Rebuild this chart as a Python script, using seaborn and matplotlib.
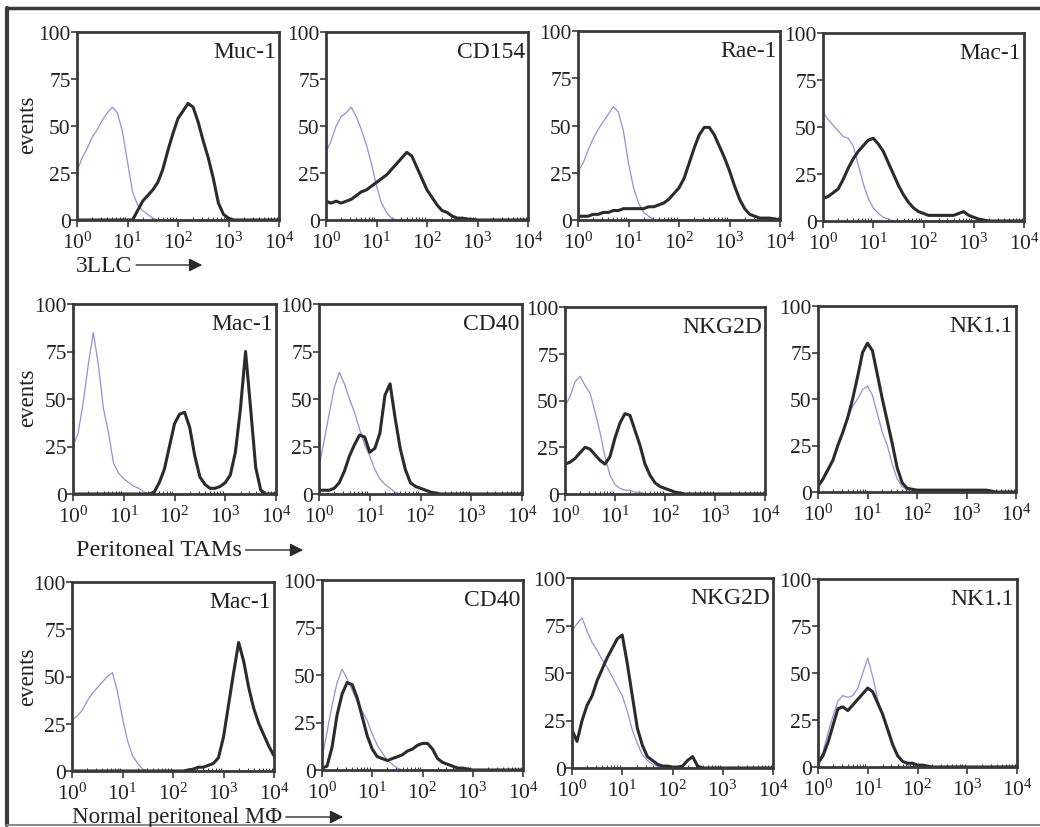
import numpy as np
import pandas as pd
import matplotlib
matplotlib.use("Agg")
import matplotlib.pyplot as plt
import seaborn as sns
from matplotlib.ticker import FixedLocator, LogFormatterMathtext, NullFormatter
from matplotlib.patches import FancyArrowPatch
from matplotlib.lines import Line2D

# ---------------- data (events per channel, read at 0.1-decade steps from 10^0) ----
decades = [round(0.1 * i, 1) for i in range(41)]
y_ticks = [0, 25, 50, 75, 100]
x_ticks = [1, 10, 100, 1000, 10000]

panel_labels = ["Muc-1", "CD154", "Rae-1", "Mac-1",
                "Mac-1", "CD40", "NKG2D", "NK1.1",
                "Mac-1", "CD40", "NKG2D", "NK1.1"]
row_labels = ["3LLC", "Peritoneal TAMs", "Normal peritoneal M\u03a6"]

# row 1 : 3LLC
muc1_iso = [26, 33, 38, 44, 48, 53, 57, 60, 57, 47, 31, 15, 8, 5, 3, 1, 0]
muc1_stain = [0] * 12 + [5, 10, 13, 16, 20, 27, 37, 46, 54, 58, 62, 60, 52, 42, 33, 22, 9, 3, 1, 0]
cd154_iso = [36, 42, 50, 55, 57, 60, 55, 48, 40, 30, 18, 9, 4, 1, 0]
cd154_stain = [10, 9, 10, 9, 10, 11, 13, 15, 16, 18, 20, 22, 24, 27, 30, 33, 36, 34, 28, 22,
               16, 12, 8, 5, 4, 2, 1, 1, 0.5, 0.3, 0]
rae1_iso = [26, 30, 37, 43, 48, 52, 56, 60, 57, 47, 30, 17, 9, 4, 2, 0]
rae1_stain = [2, 2, 2, 3, 3, 4, 4, 5, 5, 6, 6, 6, 6, 6, 7, 7, 8, 9, 11, 14, 17, 22, 30, 38, 45,
              49, 49, 45, 39, 33, 26, 18, 11, 6, 3, 2, 1, 1, 1, 0.5, 0]
mac1_llc_iso = [58, 54, 51, 48, 45, 44, 40, 30, 20, 12, 7, 4, 2, 1, 0]
mac1_llc_stain = [12, 13, 15, 17, 22, 28, 33, 37, 40, 43, 44, 41, 37, 31, 25, 19, 14, 10, 7, 5,
                  4, 3, 3, 3, 3, 3, 3, 4, 5, 3, 2, 1, 0.5, 0]
# row 2 : peritoneal TAMs
mac1_tam_iso = [25, 32, 48, 68, 85, 68, 45, 32, 16, 11, 8, 6, 4, 3, 1, 0]
mac1_tam_stain = [0] * 16 + [1, 6, 13, 25, 37, 42, 43, 35, 20, 9, 5, 3, 3, 4, 6, 10, 22, 45, 75,
                             45, 14, 2, 0]
cd40_tam_iso = [14, 28, 42, 56, 64, 58, 50, 43, 34, 26, 20, 13, 8, 5, 3, 1, 0]
cd40_tam_stain = [2, 2, 2, 3, 6, 12, 20, 26, 31, 30, 22, 24, 32, 52, 58, 40, 24, 13, 6, 4, 3, 2,
                  1, 0.5, 0]
nkg2d_tam_iso = [47, 52, 60, 63, 58, 54, 44, 33, 20, 10, 5, 3, 2, 2, 1, 1, 0]
nkg2d_tam_stain = [16, 17, 19, 22, 25, 24, 21, 18, 16, 20, 30, 38, 43, 42, 34, 26, 16, 10, 6, 4,
                   3, 2, 1, 0.5, 0]
nk11_tam_iso = [3, 6, 11, 17, 24, 32, 40, 46, 50, 55, 57, 52, 42, 32, 25, 15, 7, 3, 1, 0]
nk11_tam_stain = [3, 7, 12, 17, 25, 32, 40, 50, 62, 75, 80, 76, 63, 50, 38, 26, 13, 5, 2, 1.5,
                  1, 1, 1, 1, 1, 1, 1, 1, 1, 1, 1, 1, 1, 1, 1, 0.5, 0]
# row 3 : normal peritoneal macrophages
mac1_mf_iso = [27, 29, 32, 37, 41, 44, 47, 50, 52, 42, 28, 16, 8, 4, 1, 0]
mac1_mf_stain = [0] * 23 + [0.5, 1, 2, 2, 3, 4, 7, 18, 35, 52, 68, 58, 44, 33, 25, 19, 13, 8]
cd40_mf_iso = [6, 20, 34, 46, 53, 48, 42, 36, 31, 26, 19, 13, 9, 5, 3, 1, 0]
cd40_mf_stain = [1, 2, 12, 29, 40, 46, 45, 38, 28, 18, 11, 7, 6, 5, 6, 7, 8, 10, 11, 13, 14, 14,
                 11, 6, 4, 3, 2, 1, 1, 0.5, 0]
nkg2d_mf_iso = [72, 76, 79, 72, 66, 62, 57, 53, 48, 43, 38, 30, 20, 13, 7, 4, 2, 1, 0]
nkg2d_mf_stain = [20, 14, 25, 33, 38, 46, 52, 58, 63, 68, 70, 55, 38, 21, 12, 6, 4, 2, 1, 1, 0.5,
                  0.5, 1, 4, 6, 1, 0]
nk11_mf_iso = [3, 8, 18, 27, 35, 38, 37, 38, 42, 50, 58, 48, 36, 27, 20, 12, 6, 3, 1, 0]
nk11_mf_stain = [2, 6, 13, 22, 31, 32, 30, 33, 36, 39, 42, 40, 34, 28, 20, 12, 6, 3, 2, 2, 1, 1,
                 0.5, 0]

iso_series = [muc1_iso, cd154_iso, rae1_iso, mac1_llc_iso,
              mac1_tam_iso, cd40_tam_iso, nkg2d_tam_iso, nk11_tam_iso,
              mac1_mf_iso, cd40_mf_iso, nkg2d_mf_iso, nk11_mf_iso]
stain_series = [muc1_stain, cd154_stain, rae1_stain, mac1_llc_stain,
                mac1_tam_stain, cd40_tam_stain, nkg2d_tam_stain, nk11_tam_stain,
                mac1_mf_stain, cd40_mf_stain, nkg2d_mf_stain, nk11_mf_stain]

# ---------------- style ----------------
sns.set_style("white")
plt.rcParams["font.family"] = ["Liberation Serif", "DejaVu Serif"]
plt.rcParams["mathtext.fontset"] = "custom"
plt.rcParams["mathtext.rm"] = "Liberation Serif"
plt.rcParams["mathtext.it"] = "Liberation Serif"
plt.rcParams["mathtext.bf"] = "Liberation Serif"

W, H = 1040, 828
fig = plt.figure(figsize=(W / 100, H / 100), dpi=100)
fig.patch.set_facecolor("white")

INK = "#2b2b2b"
ISO = "#9088dc"
TXT = "#222222"

# panel boxes in pixels: left, top, right, bottom
boxes = [(77, 33, 279, 221), (326, 33, 528, 221), (578, 32, 780, 221), (823, 34, 1024, 222),
         (73, 305, 276, 495), (319, 305, 522, 495), (565, 308, 765, 495), (818, 307, 1016, 493),
         (72, 583, 274, 772), (322, 581, 523, 771), (572, 579, 773, 769), (818, 580, 1017, 768)]


def pad(vals):
    return list(vals) + [0] * (len(decades) - len(vals))


minor = [m * 10 ** e for e in range(4) for m in range(2, 10)]

for i, (l, t, r, b) in enumerate(boxes):
    ax = fig.add_axes([l / W, 1 - b / H, (r - l) / W, (b - t) / H])
    df = pd.DataFrame({"x": [10 ** d for d in decades],
                       "iso": pad(iso_series[i]),
                       "stain": pad(stain_series[i])})
    sns.lineplot(data=df, x="x", y="iso", ax=ax, color=ISO, lw=0.9, alpha=0.95)
    sns.lineplot(data=df, x="x", y="stain", ax=ax, color=INK, lw=2.2)
    ax.set_xscale("log")
    ax.set_xlim(1, 10000)
    ax.set_ylim(0, 100)
    ax.xaxis.set_major_locator(FixedLocator(x_ticks))
    ax.xaxis.set_major_formatter(LogFormatterMathtext())
    ax.xaxis.set_minor_locator(FixedLocator(minor))
    ax.xaxis.set_minor_formatter(NullFormatter())
    ax.set_yticks(y_ticks)
    ax.set_xlabel("")
    ax.set_ylabel("")
    for s in ax.spines.values():
        s.set_color("#3a3a3a")
        s.set_linewidth(2.0)
    ax.tick_params(axis="x", which="major", direction="out", length=5, width=1.2,
                   color="#3a3a3a", labelsize=15.5, pad=3, labelcolor=TXT, bottom=True)
    ax.tick_params(axis="x", which="minor", direction="in", length=2, width=0.8,
                   color="#3a3a3a", bottom=True)
    ax.tick_params(axis="y", which="major", direction="out", length=4, width=1.2,
                   color="#3a3a3a", labelsize=15.5, pad=0.5, labelcolor=TXT, left=True)
    ax.text(0.985, 0.95, panel_labels[i], transform=ax.transAxes, ha="right", va="top",
            fontsize=17, color=TXT)

# y labels
for yc in (125, 398, 677):
    fig.text(28 / W, 1 - yc / H, "events", rotation=90, ha="center", va="center",
             fontsize=16.5, color=TXT)

# row labels with arrows
label_pos = [(76, 266, 205), (76, 551, 306), (72, 818, 346)]
label_size = [17, 17.5, 16.5]
fig.canvas.draw()
for (x0, yc, xa), txt, fs in zip(label_pos, row_labels, label_size):
    t = fig.text(x0 / W, 1 - yc / H, txt, ha="left", va="center", fontsize=fs, color=TXT)
    fig.canvas.draw()
    bb = t.get_window_extent()
    xs = bb.x1 + 1
    arr = FancyArrowPatch((xs / W, 1 - yc / H), (xa / W, 1 - yc / H),
                          transform=fig.transFigure, arrowstyle="-|>",
                          mutation_scale=20, lw=1.0, color="#2b2b2b")
    fig.patches.append(arr)

# outer frame (scanned figure border)
fig.add_artist(Line2D([7 / W, 7 / W], [1 - 9 / H, 1 - 826 / H], transform=fig.transFigure,
                      color="#3a3a3a", lw=3))
fig.add_artist(Line2D([7 / W, 1.0], [1 - 9 / H, 1 - 9 / H], transform=fig.transFigure,
                      color="#3a3a3a", lw=2.5))
fig.add_artist(Line2D([7 / W, 1.0], [1 - 826 / H, 1 - 826 / H], transform=fig.transFigure,
                      color="#8a8a8a", lw=1.5))

fig.savefig("out.png", dpi=100, facecolor="white")
